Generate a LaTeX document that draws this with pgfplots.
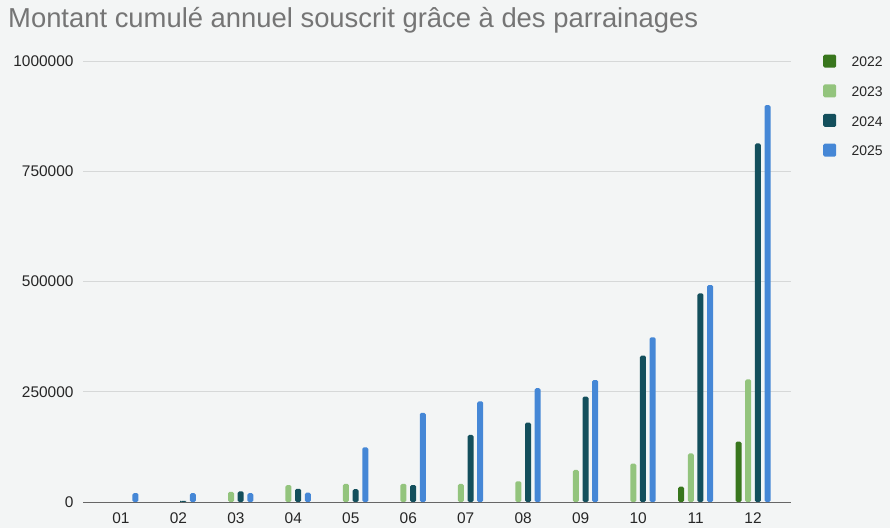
\documentclass[border=0pt]{standalone}
\usepackage{pgfplots}
\pgfplotsset{compat=1.18}
\usepackage{fontspec}
\setmainfont{Liberation Sans}
\definecolor{bg}{HTML}{F3F5F5}
\definecolor{cA}{HTML}{38761D}
\definecolor{cB}{HTML}{93C47D}
\definecolor{cC}{HTML}{134F5C}
\definecolor{cD}{HTML}{4587D6}
\definecolor{titlegray}{HTML}{757575}
\definecolor{ticktext}{HTML}{262626}
\definecolor{gridc}{HTML}{D6D8D8}
\begin{document}
\begin{tikzpicture}
\fill[bg] (0,0) rectangle (890bp,528bp);
\useasboundingbox (0,0) rectangle (890bp,528bp);
\node[anchor=base west, inner sep=0pt, text=titlegray, font=\fontsize{27.5}{32}\selectfont] at (8bp,500bp) {Montant cumulé annuel souscrit grâce à des parrainages};
\begin{axis}[
  at={(83bp,26bp)}, anchor=south west,
  scale only axis, width=708bp, height=441bp,
  xmin=0.34, xmax=12.66, ymin=0, ymax=1000000,
  ybar=3.67bp, bar width=6bp,
  xtick={1,...,12},
  xticklabels={01,02,03,04,05,06,07,08,09,10,11,12},
  ytick={0,250000,500000,750000,1000000},
  scaled y ticks=false,
  yticklabel style={/pgf/number format/fixed, /pgf/number format/1000 sep={}},
  /pgf/number format/assume math mode=true,
  tick label style={font=\fontsize{15.5}{18}\selectfont, text=ticktext},
  xticklabel style={yshift=-7bp},
  yticklabel style={xshift=-6bp},
  major tick length=0pt,
  ymajorgrids, grid style={gridc, line width=0.9bp},
  axis x line*=bottom, axis y line*=left,
  y axis line style={draw=none},
  x axis line style={draw=gray!80!black, line width=0.9bp, -},
  every axis plot/.append style={draw=none, rounded corners=1.5bp},
  legend style={draw=none, fill=none, at={(1,1)}, anchor=north west, xshift=32bp, yshift=6.5bp,
    font=\fontsize{14}{16}\selectfont, text=ticktext, row sep=14.5bp, inner sep=0pt,
    nodes={inner sep=1.5bp}},
  legend cell align=left,
  legend image code/.code={\fill[#1] (0bp,-5bp) rectangle (13bp,8bp); \path (27bp,0bp);},
]
\addplot[fill=cA] coordinates {(11,34700) (12,137000)};
\addplot[fill=cB] coordinates {(3,23000) (4,38500) (5,41000) (6,41000) (7,41000) (8,47000) (9,72600) (10,87000) (11,110000) (12,278000)};
\addplot[fill=cC] coordinates {(2,2500) (3,24000) (4,30000) (5,29000) (6,38500) (7,152000) (8,180000) (9,239000) (10,332000) (11,473000) (12,813000)};
\addplot[fill=cD] coordinates {(1,20000) (2,20000) (3,20000) (4,21000) (5,124000) (6,202000) (7,228000) (8,258000) (9,276600) (10,373500) (11,492000) (12,900000)};
\legend{2022,2023,2024,2025}
\end{axis}
\end{tikzpicture}
\end{document}
